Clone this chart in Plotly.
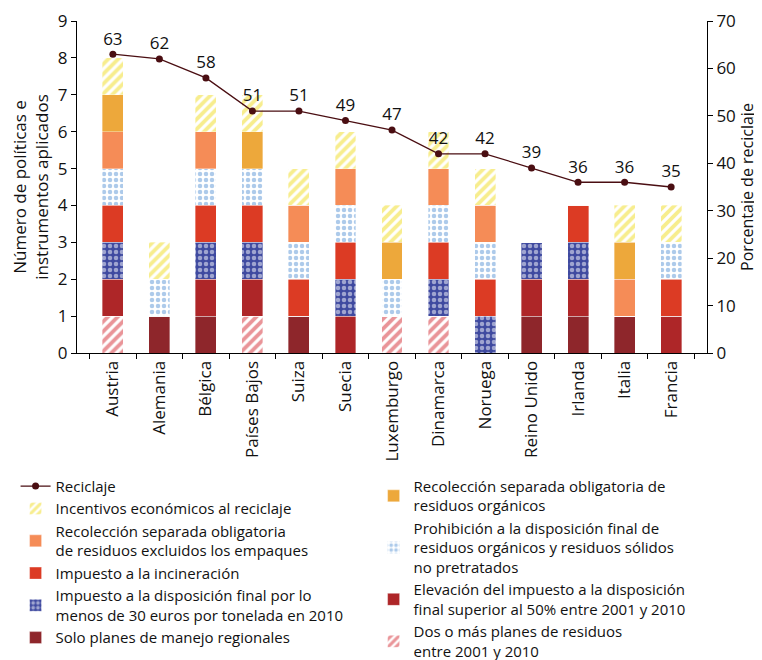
import plotly.graph_objects as go

paises = ["Austria", "Alemania", "Bélgica", "Países Bajos", "Suiza", "Suecia",
          "Luxemburgo", "Dinamarca", "Noruega", "Reino Unido", "Irlanda", "Italia", "Francia"]

reciclaje = [63, 62, 58, 51, 51, 49, 47, 42, 42, 39, 36, 36, 35]

# 1 = instrumento aplicado (cada uno cuenta 1 en el apilado)
dos_planes     = [1, 0, 0, 1, 0, 0, 1, 1, 0, 0, 0, 0, 0]
solo_planes    = [0, 1, 1, 0, 1, 0, 0, 0, 0, 1, 1, 1, 0]
elevacion      = [1, 0, 1, 1, 0, 1, 0, 0, 0, 1, 1, 0, 1]
impuesto_disp  = [1, 0, 1, 1, 0, 1, 0, 1, 1, 1, 1, 0, 0]
incineracion   = [1, 0, 1, 1, 1, 1, 0, 1, 1, 0, 1, 0, 1]
prohibicion    = [1, 1, 1, 1, 1, 1, 1, 1, 1, 0, 0, 0, 1]
recol_empaques = [1, 0, 1, 0, 1, 1, 0, 1, 1, 0, 0, 1, 0]
recol_organic  = [1, 0, 0, 1, 0, 0, 1, 0, 0, 0, 0, 1, 0]
incentivos     = [1, 1, 1, 1, 1, 1, 1, 1, 1, 0, 0, 1, 1]

FONT = "Open Sans"

fig = go.Figure()

def barra(vals, name, color, legend, rank, pattern=None):
    marker = dict(color=color, line=dict(color="rgba(255,255,255,0.6)", width=0.6))
    if pattern:
        marker["pattern"] = pattern
    fig.add_trace(go.Bar(x=paises, y=vals, name=name, marker=marker,
                         legend=legend, legendrank=rank))

# orden de apilado (abajo -> arriba)
barra(dos_planes, "Dos o más planes de residuos<br>entre 2001 y 2010", "white", "legend2", 40,
      dict(shape="/", fgcolor="#D42A32", bgcolor="white", size=7, solidity=0.55))
barra(solo_planes, "Solo planes de manejo regionales", "#8E262B", "legend", 60)
barra(elevacion, "Elevación del impuesto a la disposición<br>final superior al 50% entre 2001 y 2010",
      "#AE2628", "legend2", 30)
barra(impuesto_disp, "Impuesto a la disposición final por lo<br>menos de 30 euros por tonelada en 2010",
      "#3F4AA0", "legend", 50,
      dict(shape=".", fgcolor="white", bgcolor="#3F4AA0", size=6, solidity=0.45))
barra(incineracion, "Impuesto a la incineración", "#DC3B24", "legend", 40)
barra(prohibicion, "Prohibición a la disposición final de<br>residuos orgánicos y residuos sólidos<br>no pretratados",
      "white", "legend2", 20,
      dict(shape=".", fgcolor="#5B95D5", bgcolor="white", size=6, solidity=0.45))
barra(recol_empaques, "Recolección separada obligatoria<br>de residuos excluidos los empaques",
      "#F58C57", "legend", 30)
barra(recol_organic, "Recolección separada obligatoria de<br>residuos orgánicos", "#EDA83B", "legend2", 10)
barra(incentivos, "Incentivos económicos al reciclaje", "white", "legend", 20,
      dict(shape="/", fgcolor="#F0DC1E", bgcolor="white", size=7, solidity=0.55))

fig.add_trace(go.Scatter(
    x=paises, y=reciclaje, name="Reciclaje", yaxis="y2",
    mode="lines+markers+text", text=[str(v) for v in reciclaje],
    textposition="top center", textfont=dict(size=17, color="#111"),
    line=dict(color="#4A0E12", width=1.3), marker=dict(color="#4A0E12", size=7),
    legend="legend", legendrank=10, cliponaxis=False))

ax_font = dict(family=FONT, size=17, color="#111")
leg_font = dict(family=FONT, size=15, color="#111")

# la página tiene 8px de margen en el body: figura un poco menor que la ventana
fig.update_layout(
    width=754, height=652,
    margin=dict(l=69, r=55, t=13, b=307, autoexpand=False),
    barmode="stack", bargap=0.55,
    plot_bgcolor="white", paper_bgcolor="white",
    font=dict(family=FONT, color="#111"),
    xaxis=dict(tickangle=-90, tickfont=ax_font, showline=True, linecolor="black",
               ticks="outside", tickson="boundaries", ticklen=5, tickcolor="black",
               automargin=False),
    yaxis=dict(range=[0, 9], dtick=1, tickfont=ax_font, showline=True, linecolor="black",
               ticks="outside", ticklen=5, tickcolor="black", showgrid=False, zeroline=False,
               automargin=False,
               title=dict(text="Número de políticas e<br>instrumentos aplicados", font=ax_font)),
    yaxis2=dict(range=[0, 70], dtick=10, overlaying="y", side="right", tickfont=ax_font,
                showline=True, linecolor="black", ticks="outside", ticklen=5, tickcolor="black",
                showgrid=False, zeroline=False, automargin=False,
                title=dict(text="Porcentaje de reciclaje", font=dict(family=FONT, size=16, color="#111"),
                           standoff=4)),
    legend=dict(x=-0.0975, y=-0.352, xanchor="left", yanchor="top", font=leg_font,
                bgcolor="rgba(0,0,0,0)", traceorder="normal", itemwidth=30),
    legend2=dict(x=0.4708, y=-0.352, xanchor="left", yanchor="top", font=leg_font,
                 bgcolor="rgba(0,0,0,0)", traceorder="normal", itemwidth=30),
)

fig.write_html("out.html")
